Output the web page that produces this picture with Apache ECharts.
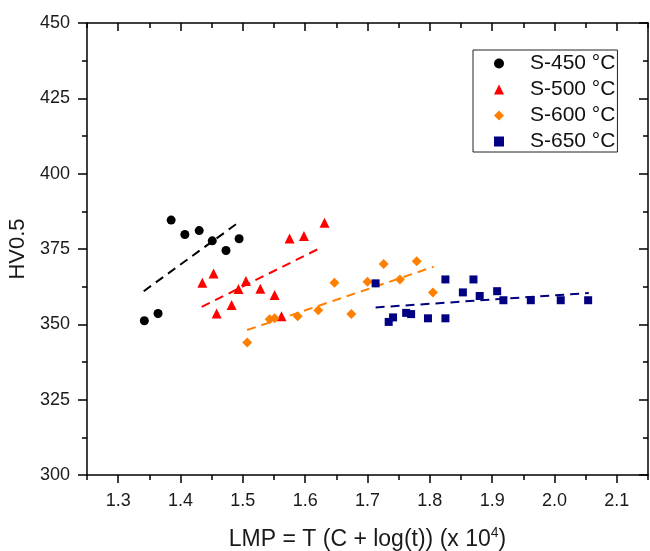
<!DOCTYPE html>
<html><head><meta charset="utf-8">
<script src="https://cdn.jsdelivr.net/npm/echarts@6/dist/echarts.min.js"></script>
<style>html,body{margin:0;padding:0;background:#fff}#c{width:650px;height:551px}</style>
</head><body><div id="c"></div>
<script>
// ---- data ----
const seriesNames = ['S-450 °C', 'S-500 °C', 'S-600 °C', 'S-650 °C'];
const s450x = [1.342, 1.364, 1.385, 1.407, 1.430, 1.451, 1.473, 1.494];
const s450y = [351.2, 353.6, 384.6, 379.8, 381.1, 377.7, 374.5, 378.4];
const s500x = [1.435, 1.453, 1.458, 1.482, 1.493, 1.505, 1.528, 1.551, 1.562, 1.575, 1.598, 1.631];
const s500y = [363.8, 366.9, 353.6, 356.4, 361.7, 364.4, 361.8, 359.7, 352.7, 378.5, 379.3, 383.7];
const s600x = [1.507, 1.543, 1.551, 1.588, 1.621, 1.647, 1.674, 1.700, 1.726, 1.752, 1.779, 1.805];
const s600y = [344.0, 351.7, 352.0, 352.7, 354.7, 363.8, 353.4, 364.1, 370.0, 364.9, 370.9, 360.6];
const s650x = [1.713, 1.734, 1.741, 1.762, 1.770, 1.797, 1.825, 1.825, 1.853, 1.870, 1.880, 1.908, 1.918, 1.962, 2.010, 2.054];
const s650y = [363.6, 350.8, 352.3, 353.8, 353.4, 352.0, 364.9, 352.0, 360.6, 364.9, 359.4, 361.0, 358.0, 358.0, 358.0, 358.0];
// linear fit end points
const fit450x = [1.341, 1.489], fit450y = [361.0, 383.2];
const fit500x = [1.434, 1.623], fit500y = [355.8, 375.2];
const fit600x = [1.507, 1.806], fit600y = [348.1, 369.1];
const fit650x = [1.713, 2.055], fit650y = [355.6, 360.4];
// ticks
const xMajorTicks = [1.3, 1.4, 1.5, 1.6, 1.7, 1.8, 1.9, 2.0, 2.1];
const xMinorTicks = [1.25, 1.35, 1.45, 1.55, 1.65, 1.75, 1.85, 1.95, 2.05, 2.15];
const xMin = 1.25, xMax = 2.15;
const yMin = 300, yMax = 450, yStep = 25;

const zip = (xs, ys) => xs.map((x, i) => [x, ys[i]]);
const FONT = 'Liberation Sans, Arial, sans-serif';
const colors = ['#000000', '#ff0000', '#ff8000', '#000080'];
const symbols = ['circle', 'triangle', 'diamond', 'rect'];
const sizes = [9, 10, 10, 8];
const pts = [zip(s450x, s450y), zip(s500x, s500y), zip(s600x, s600y), zip(s650x, s650y)];
const fits = [zip(fit450x, fit450y), zip(fit500x, fit500y), zip(fit600x, fit600y), zip(fit650x, fit650y)];

const axisLineStyle = { color: '#000', width: 1.5 };
const series = [];
for (let i = 0; i < 4; i++) {
  series.push({
    name: seriesNames[i], type: 'scatter', data: pts[i],
    symbol: symbols[i], symbolSize: sizes[i],
    itemStyle: { color: colors[i], opacity: 1 },
    xAxisIndex: 0, yAxisIndex: 0, z: 3
  });
  series.push({
    name: 'fit ' + seriesNames[i], type: 'line', data: fits[i],
    symbol: 'none', silent: true,
    lineStyle: { color: colors[i], width: 2, type: [9, 6] },
    xAxisIndex: 0, yAxisIndex: 0, z: 2
  });
}

function xAx(pos, major, inside, showLine) {
  return {
    type: 'value', position: pos, min: xMin, max: xMax,
    axisLine: { show: showLine, onZero: false, lineStyle: axisLineStyle },
    axisTick: { show: true, inside: inside, customValues: major ? xMajorTicks : xMinorTicks,
      length: major ? 8 : 5, lineStyle: axisLineStyle },
    axisLabel: { show: false },
    splitLine: { show: false }
  };
}
const xBottom = xAx('bottom', true, false, true);
xBottom.axisLabel = { show: true, customValues: xMajorTicks, formatter: v => Number(v).toFixed(1),
  margin: 17, fontSize: 18, color: '#1a1a1a', fontFamily: FONT };
xBottom.name = 'LMP = T (C + log(t)) (x 10{sup|4})';
xBottom.nameLocation = 'middle';
xBottom.nameGap = 65;
xBottom.nameTextStyle = { fontSize: 23, color: '#1a1a1a', fontFamily: FONT, verticalAlign: 'middle',
  lineHeight: 27, rich: { sup: { fontSize: 14, lineHeight: 14, verticalAlign: 'top', color: '#1a1a1a', fontFamily: FONT } } };

const option = {
  backgroundColor: '#ffffff',
  animation: false,
  grid: { left: 87, right: 2, top: 23, bottom: 76, containLabel: false, outerBoundsMode: 'none' },
  legend: {
    data: seriesNames.map(n => ({ name: n })), orient: 'vertical', left: 473, top: 50,
    itemWidth: 10, itemHeight: 10, itemGap: 5, padding: [3, 2, 0, 21],
    borderColor: '#222', borderWidth: 1, backgroundColor: '#fff',
    textStyle: { fontSize: 21, color: '#111', lineHeight: 20, fontFamily: FONT, padding: [0, 0, 0, 21] }
  },
  xAxis: [xBottom, xAx('bottom', false, false, false), xAx('top', true, true, true), xAx('top', false, true, false)],
  yAxis: [
    {
      type: 'value', position: 'left', min: yMin, max: yMax, interval: yStep,
      axisLine: { show: true, onZero: false, lineStyle: axisLineStyle },
      axisTick: { show: true, length: 9, lineStyle: axisLineStyle },
      minorTick: { show: true, splitNumber: 2, length: 5, lineStyle: axisLineStyle },
      axisLabel: { margin: 17, fontSize: 18, color: '#1a1a1a', fontFamily: FONT },
      splitLine: { show: false },
      name: 'HV0.5', nameLocation: 'middle', nameGap: 66,
      nameTextStyle: { fontSize: 22, color: '#1a1a1a', fontFamily: FONT, verticalAlign: 'middle' }
    },
    {
      type: 'value', position: 'right', min: yMin, max: yMax, interval: yStep,
      axisLine: { show: true, onZero: false, lineStyle: axisLineStyle },
      axisTick: { show: true, inside: true, length: 9, lineStyle: axisLineStyle },
      minorTick: { show: true, splitNumber: 2, length: 5, lineStyle: axisLineStyle },
      axisLabel: { show: false },
      splitLine: { show: false }
    }
  ],
  series: series
};
const chart = echarts.init(document.getElementById('c'), null, { renderer: 'canvas' });
chart.setOption(option);
</script>
</body></html>
